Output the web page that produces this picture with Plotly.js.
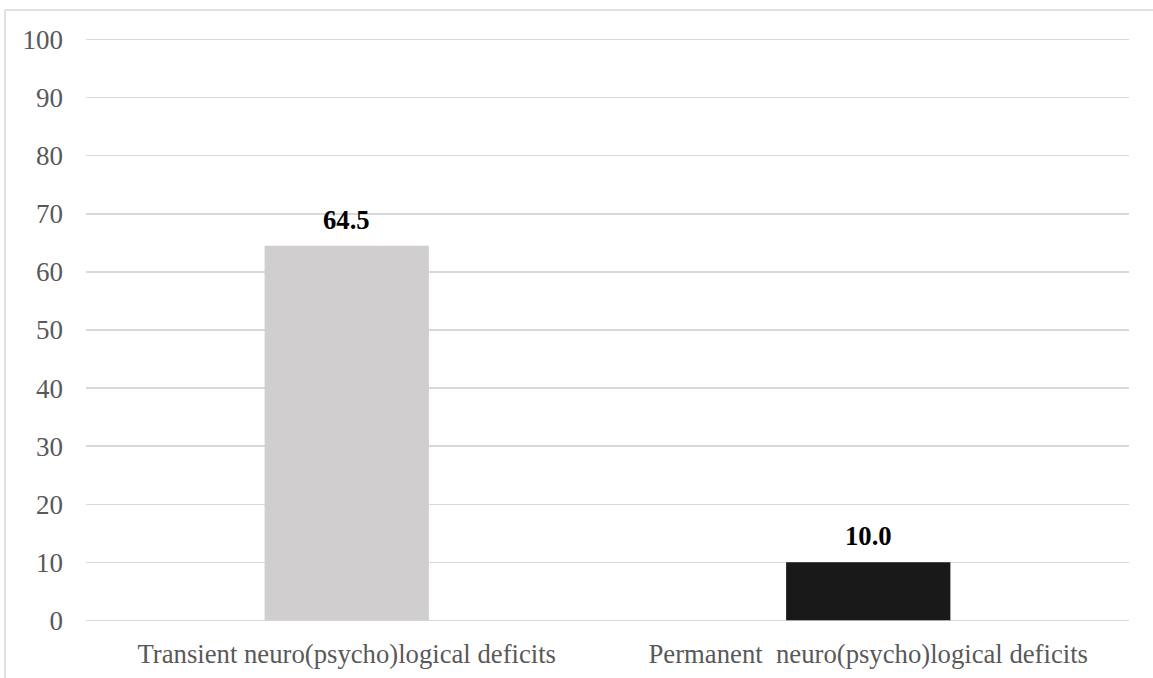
<!DOCTYPE html>
<html>
<head>
<meta charset="utf-8">
<script src="https://cdn.plot.ly/plotly-3.0.1.min.js"></script>
<style>html,body{margin:0;padding:0;background:#fff;}#chart{width:1153px;height:678px;}</style>
</head>
<body>
<div id="chart"></div>
<script>
const categories = ["Transient neuro(psycho)logical deficits", "Permanent  neuro(psycho)logical deficits"];
const values = [64.5, 10.0];
const barColors = ["#d0cece", "#191919"];
const yTicks = [0, 10, 20, 30, 40, 50, 60, 70, 80, 90, 100];

const font = "Liberation Serif, Times New Roman, serif";

const trace = {
  type: "bar",
  x: categories,
  y: values,
  marker: {color: barColors},
  width: 0.315,
  hoverinfo: "none"
};

const annotations = categories.map((c, i) => ({
  x: c, y: values[i], xref: "x", yref: "y",
  text: "<b>" + values[i].toFixed(1) + "</b>",
  showarrow: false, yanchor: "bottom", yshift: 9,
  font: {family: font, size: 26.7, color: "#000"}
}));

const layout = {
  width: 1153, height: 678,
  margin: {l: 86, r: 24, t: 38, b: 56},
  paper_bgcolor: "#fff", plot_bgcolor: "#fff",
  showlegend: false,
  xaxis: {
    type: "category",
    showgrid: false, zeroline: false, showline: false,
    ticks: "", ticklabelstandoff: 13,
    tickfont: {family: font, size: 26.7, color: "#595959"}
  },
  yaxis: {
    range: [-0.3, 100.3], tickvals: yTicks,
    showgrid: true, gridcolor: "#d9d9d9", gridwidth: 1.3,
    zeroline: false, showline: false, ticks: "",
    ticklabelstandoff: 22,
    tickfont: {family: font, size: 27, color: "#595959"}
  },
  annotations: annotations,
  shapes: [
    {type: "line", xref: "paper", yref: "paper", x0: -81/1043, x1: -81/1043, y0: 1.0479, y1: -0.2, line: {color: "#d9d9d9", width: 1.5}},
    {type: "line", xref: "paper", yref: "paper", x0: -81/1043, x1: 1.1, y0: 1.0479, y1: 1.0479, line: {color: "#d9d9d9", width: 1.5}}
  ]
};

Plotly.newPlot("chart", [trace], layout, {displayModeBar: false, staticPlot: true});
</script>
</body>
</html>
